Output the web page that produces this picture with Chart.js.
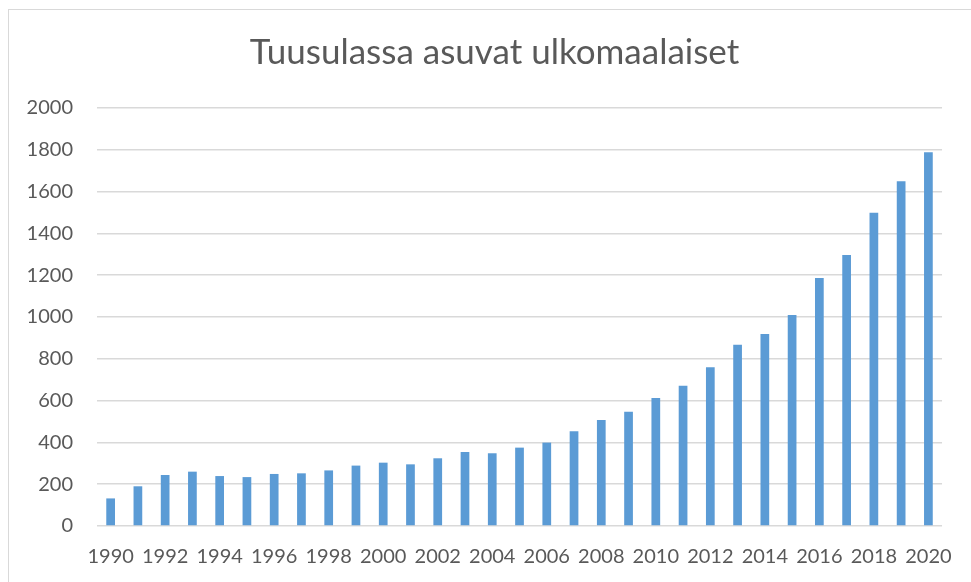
<!DOCTYPE html>
<html>
<head>
<meta charset="utf-8">
<script src="https://cdn.jsdelivr.net/npm/chart.js@4"></script>
<style>
  html, body { margin: 0; padding: 0; background: #ffffff; }
  #wrap { position: relative; width: 971px; height: 582px; overflow: hidden; }
  #frame { position: absolute; left: 8px; top: 9px; width: 1000px; height: 600px; border: 1px solid #d9d9d9; box-sizing: border-box; }
  canvas { position: absolute; left: 0; top: 0; }
</style>
</head>
<body>
<div id="wrap">
  <div id="frame"></div>
  <canvas id="c" width="971" height="582"></canvas>
</div>
<script>
const titleText = "Tuusulassa asuvat ulkomaalaiset";
const years = ["1990","1991","1992","1993","1994","1995","1996","1997","1998","1999",
               "2000","2001","2002","2003","2004","2005","2006","2007","2008","2009",
               "2010","2011","2012","2013","2014","2015","2016","2017","2018","2019","2020"];
const foreigners = [132, 190, 244, 260, 239, 234, 249, 252, 266, 289,
                    303, 295, 324, 354, 348, 375, 399, 453, 507, 547,
                    612, 671, 759, 867, 919, 1010, 1187, 1297, 1499, 1649, 1788];
const yMin = 0, yMax = 2000, yStep = 200;

const textColor = "#595959";
const gridColor = "#d9d9d9";
const barColor = "#5b9bd5";

const titleShift = {
  id: "titleShift",
  afterLayout(chart) {
    if (chart.titleBlock) {
      chart.titleBlock.left = 18;
      chart.titleBlock.right = 971;
      chart.titleBlock.width = 953;
    }
  }
};

new Chart(document.getElementById("c"), {
  type: "bar",
  data: {
    labels: years,
    datasets: [{
      data: foreigners,
      backgroundColor: barColor,
      borderWidth: 0,
      barPercentage: 0.32,
      categoryPercentage: 1.0
    }]
  },
  plugins: [titleShift],
  options: {
    responsive: false,
    animation: false,
    devicePixelRatio: 1,
    layout: { padding: { left: 0, right: 25, top: 0, bottom: 0 } },
    plugins: {
      legend: { display: false },
      tooltip: { enabled: false },
      title: {
        display: true,
        text: titleText,
        color: textColor,
        font: { family: "Lato", size: 35, weight: 400, lineHeight: 1.2 },
        padding: { top: 32, bottom: 34 }
      }
    },
    scales: {
      x: {
        grid: { display: false, drawTicks: false },
        border: { display: false },
        ticks: {
          color: textColor,
          font: { family: "Lato", size: 20 },
          maxRotation: 0,
          minRotation: 0,
          autoSkip: false,
          padding: 19,
          callback: function(val, i) { return i % 2 === 0 ? years[i] : ""; }
        },
        afterFit: function(s) { s.height = 56; }
      },
      y: {
        min: yMin,
        max: yMax,
        grid: { color: gridColor, lineWidth: 1.5, drawTicks: false },
        border: { display: false },
        ticks: {
          stepSize: yStep,
          color: textColor,
          font: { family: "Lato", size: 20 },
          padding: 24,
          callback: function(v) { return String(v); }
        },
        afterFit: function(s) { s.width = 97; }
      }
    }
  }
});
</script>
</body>
</html>
